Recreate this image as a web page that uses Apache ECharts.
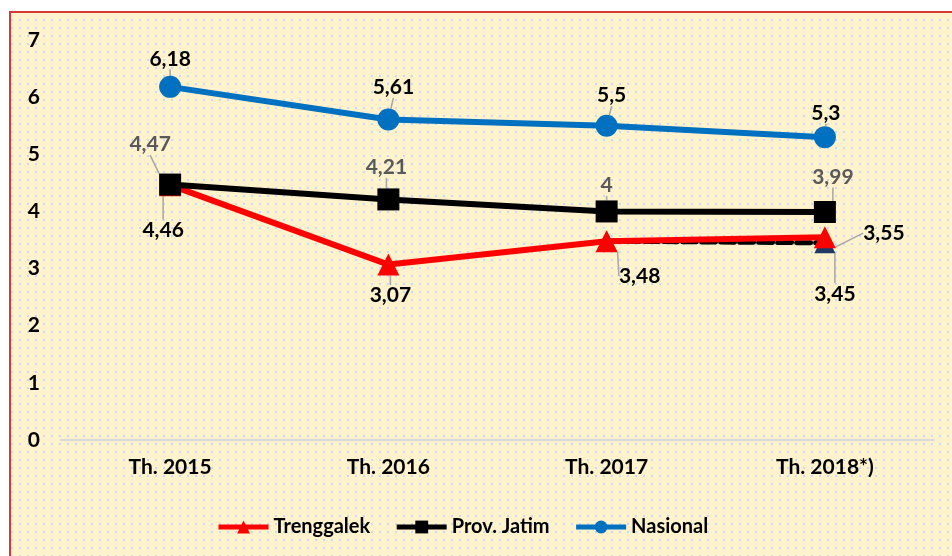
<!DOCTYPE html>
<html>
<head lang="id">
    <meta charset="UTF-8"/>
    <title>Tingkat Pengangguran Terbuka</title>
    <script src="https://cdn.jsdelivr.net/npm/echarts@6/dist/echarts.min.js"></script>
    <style>
        html, body { margin: 0; padding: 0; background: #fff; }
        #chart { width: 952px; height: 556px; }
    </style>
</head>
<body>
<div id="chart"></div>
<script>
    // data
    var categories = ['Th. 2015', 'Th. 2016', 'Th. 2017', 'Th. 2018*)'];
    var trenggalek = [4.46, 3.07, 3.48, 3.55];
    var provJatim = [4.47, 4.21, 4, 3.99];
    var nasional = [6.18, 5.61, 5.5, 5.3];
    var proyeksi = [null, null, 3.48, 3.45];

    // geser label (dx, dy) dari titik
    var offTrenggalek = [[-7, 45], [2, 31], [33, 35], [59, -4]];
    var offJatim = [[-20, -40], [-2, -32], [0, -26], [8, -35]];
    var offNasional = [[0, -28], [5, -32], [5, -30], [1, -24]];
    var offProyeksi = [[0, 0], [0, 0], [0, 0], [10, 51]];

    var FONT = 'Lato, "Open Sans", sans-serif';

    // pola titik-titik latar
    var pat = document.createElement('canvas');
    pat.width = 8;
    pat.height = 8;
    var pctx = pat.getContext('2d');
    pctx.fillStyle = '#FFF2CC';
    pctx.fillRect(0, 0, 8, 8);
    pctx.fillStyle = '#C5DCEF';
    pctx.fillRect(3, 3, 2, 2);

    function fmt(p) {
        return String(p.value).replace('.', ',');
    }

    function layoutFrom(offs) {
        return function (params) {
            var o = offs[params.dataIndex] || [0, 0];
            return {dx: o[0], dy: o[1]};
        };
    }

    function label(color) {
        return {
            show: true,
            position: 'inside',
            formatter: fmt,
            color: color,
            fontFamily: FONT,
            fontWeight: 'bold',
            fontSize: 21
        };
    }

    var leader = {show: true, length2: 0, lineStyle: {color: '#A6A6A6', width: 1.5}};

    var myChart = echarts.init(document.getElementById('chart'));
    var option = {
        animation: false,
        graphic: [{
            type: 'rect',
            z: -10,
            shape: {x: 10, y: 12, width: 960, height: 560},
            style: {fill: {image: pat, repeat: 'repeat'}, stroke: '#D33A35', lineWidth: 2}
        }],
        grid: {left: 61, right: 18, top: 40, bottom: 116},
        legend: {
            left: 211,
            top: 512,
            itemWidth: 50,
            itemHeight: 16,
            itemGap: 24,
            data: ['Trenggalek', 'Prov. Jatim', 'Nasional'],
            lineStyle: {width: 5},
            textStyle: {fontFamily: FONT, fontWeight: 'bold', fontSize: 20, color: '#000'}
        },
        xAxis: {
            type: 'category',
            data: categories,
            axisTick: {show: false},
            axisLine: {lineStyle: {color: '#D9D9D9', width: 2}},
            axisLabel: {margin: 17, color: '#000', fontFamily: FONT, fontWeight: 'bold', fontSize: 21}
        },
        yAxis: {
            type: 'value',
            min: 0,
            max: 7,
            interval: 1,
            splitLine: {show: false},
            axisLine: {show: false},
            axisTick: {show: false},
            axisLabel: {margin: 21, color: '#000', fontFamily: FONT, fontWeight: 'bold', fontSize: 21}
        },
        series: [{
            name: 'Proyeksi',
            type: 'line',
            data: proyeksi.map(function (v, i) {
                return i === 3 ? v : {value: v, label: {show: false}};
            }),
            symbol: 'triangle',
            symbolSize: 21,
            lineStyle: {color: '#000', width: 5, type: [14, 5], cap: 'round'},
            itemStyle: {color: '#203864'},
            label: label('#000'),
            labelLayout: layoutFrom(offProyeksi),
            labelLine: leader
        }, {
            name: 'Trenggalek',
            type: 'line',
            data: trenggalek,
            symbol: 'triangle',
            symbolSize: 22,
            lineStyle: {color: '#FF0000', width: 6},
            itemStyle: {color: '#FF0000'},
            label: label('#000'),
            labelLayout: layoutFrom(offTrenggalek),
            labelLine: leader
        }, {
            name: 'Prov. Jatim',
            type: 'line',
            data: provJatim,
            symbol: 'rect',
            symbolSize: 22,
            lineStyle: {color: '#000', width: 6},
            itemStyle: {color: '#000'},
            label: label('#595959'),
            labelLayout: layoutFrom(offJatim),
            labelLine: leader
        }, {
            name: 'Nasional',
            type: 'line',
            data: nasional,
            symbol: 'circle',
            symbolSize: 22,
            lineStyle: {color: '#0070C0', width: 6},
            itemStyle: {color: '#0070C0'},
            label: label('#000'),
            labelLayout: layoutFrom(offNasional),
            labelLine: leader
        }]
    };
    myChart.setOption(option);
</script>
</body>
</html>
